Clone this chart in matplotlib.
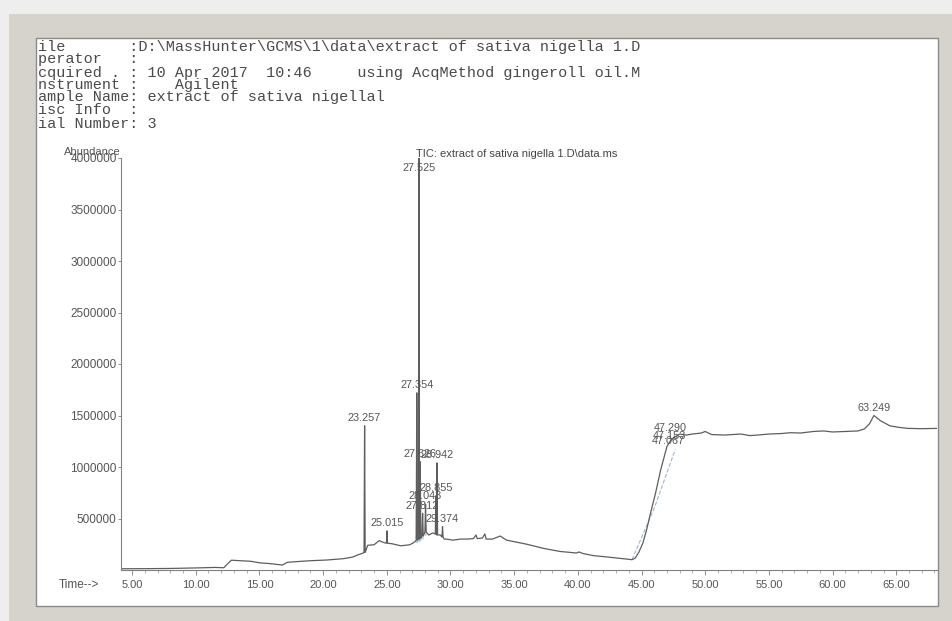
import numpy as np
import matplotlib
matplotlib.use("Agg")
import matplotlib.pyplot as plt
from matplotlib.patches import Rectangle, Polygon

# ---------------- data ----------------
header_lines = [
    "ile       :D:\\MassHunter\\GCMS\\1\\data\\extract of sativa nigella 1.D",
    "perator   :",
    "cquired . : 10 Apr 2017  10:46     using AcqMethod gingeroll oil.M",
    "nstrument :    Agilent",
    "ample Name: extract of sativa nigellal",
    "isc Info  :",
    "ial Number: 3",
]
header_y_px = [47.5, 59.5, 72.5, 84.5, 97.5, 110.5, 123.5]

trace_title = "TIC: extract of sativa nigella 1.D\\data.ms"

# baseline of the total ion chromatogram (time in min, abundance)
base_t = [4.2, 6.0, 8.0, 10.0, 11.5, 12.2, 12.5, 12.8, 13.5, 14.3, 15.0, 16.0, 16.8,
          17.2, 18.0, 19.0, 20.3, 21.6, 22.3, 22.7, 23.15, 23.5, 24.0, 24.4, 24.8,
          25.4, 26.1, 26.8, 27.1, 27.25, 27.7, 28.3, 28.6, 29.2, 29.5, 29.7, 30.2,
          30.8, 31.3, 31.8, 32.0, 32.1, 32.5, 32.7, 32.8, 33.3, 33.9, 34.4, 35.2,
          36.0, 37.3, 38.6, 39.9, 40.1, 40.4, 41.2, 42.8, 43.9, 44.25, 44.5, 44.8,
          45.1, 45.4, 45.7, 46.1, 46.5, 47.0, 47.3, 47.6, 48.0, 48.5, 49.0, 49.7,
          50.0, 50.5, 51.5, 52.8, 53.5, 54.1, 55.0, 56.0, 56.7, 57.5, 58.5, 59.3,
          60.0, 61.0, 62.0, 62.5, 62.9, 63.25, 63.75, 64.5, 65.2, 65.9, 67.0, 68.2]
base_y = [12000, 13000, 15000, 20000, 25000, 22000, 60000, 95000, 90000, 85000,
          70000, 60000, 48000, 75000, 82000, 90000, 97000, 110000, 125000, 145000,
          165000, 240000, 245000, 285000, 265000, 255000, 235000, 245000, 265000,
          280000, 330000, 340000, 360000, 340000, 300000, 300000, 290000, 300000,
          300000, 305000, 340000, 305000, 310000, 350000, 300000, 300000, 330000,
          290000, 270000, 250000, 210000, 180000, 165000, 175000, 160000, 140000,
          120000, 105000, 100000, 115000, 175000, 260000, 390000, 550000, 745000,
          970000, 1200000, 1260000, 1290000, 1320000, 1310000, 1320000, 1330000,
          1345000, 1315000, 1310000, 1320000, 1305000, 1310000, 1320000, 1325000,
          1333000, 1330000, 1345000, 1350000, 1340000, 1345000, 1350000, 1370000,
          1420000, 1500000, 1450000, 1400000, 1385000, 1375000, 1372000, 1375000]

# sharp peaks: retention time, apex abundance, local base abundance
peak_rt = [23.257, 25.015, 27.354, 27.525, 27.626, 27.812, 28.043, 28.855, 28.942, 29.374]
peak_height = [1400000, 380000, 1720000, 4050000, 1050000, 550000, 640000, 720000,
               1040000, 420000]
peak_base = [170000, 260000, 290000, 300000, 310000, 330000, 370000, 350000, 340000,
             320000]

# labels without sharp spikes (on the ramp / plateau)
extra_label_rt = [47.067, 47.153, 47.290, 63.249]
extra_label_y = [1180000, 1230000, 1300000, 1500000]

# integration baseline drawn on the solvent ramp
ramp_t = [44.25, 46.0, 47.65]
ramp_y = [100000, 600000, 1170000]

y_ticks = [500000, 1000000, 1500000, 2000000, 2500000, 3000000, 3500000, 4000000]
x_ticks = [5, 10, 15, 20, 25, 30, 35, 40, 45, 50, 55, 60, 65]

# ---------------- figure ----------------
W, H = 952, 621
fig = plt.figure(figsize=(W / 100, H / 100), dpi=100)
fig.patch.set_facecolor('#eeeeee')

def fx(px):
    return px / W

def fy(py):
    return 1 - py / H

fig.add_artist(Rectangle((fx(9), 0), 1, fy(14), transform=fig.transFigure,
                         facecolor='#d6d3cc', edgecolor='none', zorder=-3))
fig.add_artist(Rectangle((fx(36), fy(606)), fx(938) - fx(36), fy(38) - fy(606),
                         transform=fig.transFigure, facecolor='white',
                         edgecolor='#8a8a8a', linewidth=1.0, zorder=-2))

for line, ypx in zip(header_lines, header_y_px):
    fig.text(fx(38), fy(ypx), line, family='Liberation Mono', fontsize=10.9,
             color='#4a4a4a', ha='left', va='center')

ax = fig.add_axes([fx(121.5), fy(570), fx(937) - fx(121.5), fy(158) - fy(570)])
ax.set_facecolor('none')
for s in ['top', 'right']:
    ax.spines[s].set_visible(False)
for s in ['left', 'bottom']:
    ax.spines[s].set_color('#808080')
    ax.spines[s].set_linewidth(0.8)

ax.set_xlim(4.17, 68.2)
ax.set_ylim(0, 4000000)

# build trace
half_w = 0.045
pts = []
for t, y in zip(base_t, base_y):
    if all(abs(t - r) > half_w for r in peak_rt):
        pts.append((t, y))
for r, h, b in zip(peak_rt, peak_height, peak_base):
    pts += [(r - half_w, b), (r, h), (r + half_w, b)]
pts.sort()
tt = np.array([p[0] for p in pts])
yy = np.array([p[1] for p in pts])

# shaded integration areas for the main cluster
for r, h, b in zip(peak_rt, peak_height, peak_base):
    if 27.3 < r < 28.1:
        ax.add_patch(Polygon([(r - half_w * 2, b * 0.9), (r, min(h, 4000000)),
                              (r + half_w * 2, b * 0.9)], closed=True,
                             facecolor='#b9cfe2', edgecolor='none', zorder=1))

ax.plot(ramp_t, ramp_y, color='#9db8d3', lw=0.8, ls='--', zorder=1.5)
ax.plot(tt, yy, color='#5e5e5e', lw=0.9, zorder=2, clip_on=True)

label_kw = dict(family='Liberation Sans', fontsize=7.8, color='#555555',
                ha='center', va='bottom', zorder=3)
for r, h in zip(peak_rt, peak_height):
    ax.annotate(f"{r:.3f}", (r, min(h, 3830000)), xytext=(0, 2),
                textcoords='offset points', **label_kw)
for r, h in zip(extra_label_rt, extra_label_y):
    ax.annotate(f"{r:.3f}", (r, h), xytext=(0, 2),
                textcoords='offset points', **label_kw)

ax.set_yticks(y_ticks)
ax.set_yticklabels([str(v) for v in y_ticks])
ax.set_xticks(x_ticks)
ax.set_xticklabels([f"{v:.2f}" for v in x_ticks])
ax.set_xticks(np.arange(5, 69, 1), minor=True)
ax.tick_params(axis='y', length=2, width=0.6, pad=1.5, colors='#808080',
               labelcolor='#555555', labelsize=8.5)
ax.tick_params(axis='x', which='major', length=3.5, width=0.6, pad=4,
               colors='#808080', labelcolor='#555555', labelsize=8)
ax.tick_params(axis='x', which='minor', length=2, width=0.5, colors='#909090')
for lab in ax.get_xticklabels() + ax.get_yticklabels():
    lab.set_family('Liberation Sans')

fig.text(fx(121), fy(152), "Abundance", family='Liberation Sans', fontsize=8,
         color='#555555', ha='right', va='center')
fig.text(fx(79), fy(585), "Time-->", family='Liberation Sans', fontsize=8.5,
         color='#555555', ha='center', va='center')
fig.text(fx(416), fy(154), trace_title, family='Liberation Sans', fontsize=8,
         color='#444444', ha='left', va='center')

fig.savefig("out.png", dpi=100, facecolor=fig.get_facecolor())
